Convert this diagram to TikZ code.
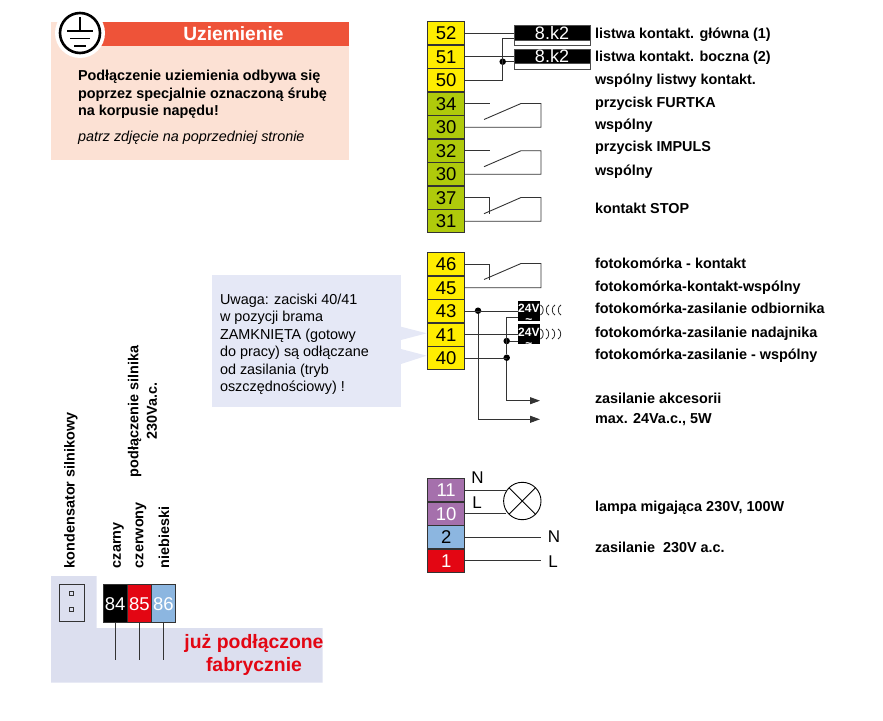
\documentclass[tikz,border=0pt]{standalone}
\usepackage{fontspec}
\setmainfont{Liberation Sans}
\usetikzlibrary{positioning, arrows.meta, matrix}

\definecolor{termyellow}{HTML}{FFED00}
\definecolor{termgreen}{HTML}{AFCA0B}
\definecolor{termviolet}{HTML}{A570AC}
\definecolor{termblue}{HTML}{8CB6E0}
\definecolor{termred}{HTML}{E30613}
\definecolor{peach}{HTML}{FCE1D4}
\definecolor{headred}{HTML}{EE5339}
\definecolor{noteblue}{HTML}{E5E8F6}
\definecolor{factoryblue}{HTML}{DCDFEF}

\begin{document}
\begin{tikzpicture}[
		x=1pt, y=-1pt,
		every node/.style={inner sep=0pt, outer sep=0pt},
		every matrix/.style={row sep=-.9pt, column sep=-.9pt},
		term/.style={draw=black!80, line width=1pt, minimum width=36.7pt, minimum height=23.4pt, text height=13pt, text depth=0pt, font=\fontsize{18.5}{20}\selectfont},
		yellowterm/.style={term, fill=termyellow},
		greenterm/.style={term, fill=termgreen},
		violetterm/.style={term, fill=termviolet, text=white},
		blueterm/.style={term, fill=termblue},
		redterm/.style={term, fill=termred, text=white},
		motorterm/.style={term, minimum width=24pt, minimum height=37.4pt},
		label/.style={anchor=west, yshift=-1.8pt, text height=10.5pt, text depth=3pt, font=\fontsize{14.4}{17}\selectfont\bfseries},
		vlabel/.style={anchor=west, rotate=90, font=\fontsize{14.4}{17}\selectfont\bfseries},
		small/.style={anchor=west, font=\fontsize{14.4}{17}\selectfont},
		resistor/.style={fill=black, draw=black!70, line width=.8pt, text=white, minimum width=76pt, minimum height=14.5pt, font=\fontsize{18}{16}\selectfont},
		resistorfoot/.style={fill=white, draw=black!70, line width=.8pt, minimum width=76pt, minimum height=5.5pt},
		supply/.style={fill=black, text=white, minimum width=22.3pt, minimum height=20pt, text height=19.5pt, text depth=.5pt, font=\fontsize{12}{9}\selectfont\bfseries},
		wire/.style={line width=.9pt, black!80},
		to/.style={-{Triangle[length=10pt,width=7pt]}, wire},
		dot/.style={circle, fill=black, minimum size=6.5pt},
		wave/.style={line width=.8pt, black!85}
		]
		
		\useasboundingbox (0,0) rectangle (883,720);
		
		% earthing panel
		\fill[peach] (51,22) rectangle (349,160);
		\fill[headred] (80,22) rectangle (349,45.5);
		\node[circle, fill=white, minimum size=50pt] (halo) at (80,33) {};
		\node[circle, draw=black, line width=2.6pt, minimum size=40pt] (earth) at (80,33) {};
		\draw[line width=1.6pt] (earth.center) ++(0,-16) -- ++(0,13);
		\draw[line width=1.6pt] (earth.center) ++(-13,-2) -- ++(26,0);
		\draw[line width=1.6pt] (earth.center) ++(-10,5.3) -- ++(20,0);
		\draw[line width=1.6pt] (earth.center) ++(-6,12.7) -- ++(12,0);
		\node[text=white, font=\fontsize{19.2}{20}\selectfont\bfseries] (earthtitle) at (233.5,34) {Uziemienie};
		\node[anchor=north west, align=left, font=\fontsize{14.4}{17.7}\selectfont\bfseries] (earthtext) at (78,70) {Podłączenie uziemienia odbywa się\\poprzez specjalnie oznaczoną śrubę\\na korpusie napędu!};
		\node[small, font=\fontsize{14.4}{17}\selectfont\itshape] (earthnote) at (78,137.5) {patrz zdjęcie na poprzedniej stronie};
		
		% note on 40/41
		\fill[noteblue] (211.7,275) rectangle (401,406.7);
		\fill[noteblue] (401,326.7) -- (426.7,333.3) -- (401,340) -- cycle;
		\fill[noteblue] (401,349) -- (426.7,355.7) -- (401,364) -- cycle;
		\node[small, anchor=north west, align=left, font=\fontsize{14.4}{17.4}\selectfont] (notetext) at (220,294) {Uwaga: zaciski 40/41\\w pozycji brama\\ZAMKNIĘTA (gotowy\\do pracy) są odłączane\\od zasilania (tryb\\oszczędnościowy) !};
		
		% terminal strips
		\matrix[matrix of nodes, anchor=north west, inner sep=0pt] (upper) at (427.3,21)
		{
			|[yellowterm] (t52)| 52 \\
			|[yellowterm] (t51)| 51 \\
			|[yellowterm] (t50)| 50 \\
			|[greenterm] (t34)| 34 \\
			|[greenterm] (t30a)| 30 \\
			|[greenterm] (t32)| 32 \\
			|[greenterm] (t30b)| 30 \\
			|[greenterm] (t37)| 37 \\
			|[greenterm] (t31)| 31 \\
		};
		\matrix[matrix of nodes, anchor=north west, inner sep=0pt] (middle) at (427.3,252)
		{
			|[yellowterm] (t46)| 46 \\
			|[yellowterm] (t45)| 45 \\
			|[yellowterm] (t43)| 43 \\
			|[yellowterm] (t41)| 41 \\
			|[yellowterm] (t40)| 40 \\
		};
		\matrix[matrix of nodes, anchor=north west, inner sep=0pt] (lower) at (427.3,478)
		{
			|[violetterm] (t11)| 11 \\
			|[violetterm] (t10)| 10 \\
			|[blueterm] (t2)| 2 \\
			|[redterm] (t1)| 1 \\
		};
		
		% resistors
		\node[resistor, anchor=north west] (r1) at (514,25.7) {8.k2};
		\node[resistorfoot, below=0pt of r1] (r1b) {};
		\node[resistor, anchor=north west] (r2) at (514,49.3) {8.k2};
		\node[resistorfoot, below=0pt of r2] (r2b) {};
		\coordinate (r1in) at (502.7,38.3);
		\node[dot] (d51) at (502.7,61.7) {};
		
		\draw[wire] (t52.east) -- (t52.east -| r1.west);
		\draw[wire] (t51.east) -- (t51.east -| r2.west);
		\draw[wire] (t50.east) -| (r1in) -- (r1in -| r1.west);
		\draw[wire] (d51) -- (d51 -| r2.west);
		
		% switches
		\coordinate (s1a) at (489.5,103.5);
		\coordinate (s1b) at (484,119.5);
		\coordinate (s1c) at (521,103.5);
		\coordinate (s1d) at (541,103.5);
		\draw[wire] (t34.east) -- (t34.east -| s1a);
		\draw[wire] (s1b) -- (s1c) -- (s1d) |- (t30a.east);
		
		\coordinate (s2a) at (489.5,150.7);
		\coordinate (s2b) at (484,166.7);
		\coordinate (s2c) at (521,150.7);
		\coordinate (s2d) at (541,150.7);
		\draw[wire] (t32.east) -- (t32.east -| s2a);
		\draw[wire] (s2b) -- (s2c) -- (s2d) |- (t30b.east);
		
		\coordinate (s3a) at (489.5,214);
		\coordinate (s3b) at (484,213.7);
		\coordinate (s3c) at (521,197.5);
		\coordinate (s3d) at (541,197.5);
		\draw[wire] (t37.east) -| (s3a);
		\draw[wire] (s3b) -- (s3c) -- (s3d) |- (t31.east);
		
		\coordinate (s4a) at (489.5,280);
		\coordinate (s4b) at (484,279.5);
		\coordinate (s4c) at (521,263.5);
		\coordinate (s4d) at (541,263.5);
		\draw[wire] (t46.east) -| (s4a);
		\draw[wire] (s4b) -- (s4c) -- (s4d) |- (t45.east);
		
		% photocell supply
		\node[supply, anchor=north west] (rx) at (517.7,300.7) {\raisebox{-3.5pt}{\shortstack{24V\\[3pt]\textasciitilde}}};
		\node[supply, anchor=north west] (tx) at (517.7,324.3) {\raisebox{-3.5pt}{\shortstack{24V\\[3pt]\textasciitilde}}};
		\node[dot] (d43) at (478,310.7) {};
		\node[dot] (d41) at (506.7,341) {};
		\node[dot] (d40) at (506.7,357.7) {};
		\coordinate (rxin) at (506.7,317.3);
		\coordinate (acc1) at (540,400.7);
		\coordinate (acc2) at (540,419.3);
		
		\draw[wire] (t43.east) -- (t43.east -| rx.west);
		\draw[wire] (t41.east) -- (t41.east -| tx.west);
		\draw[wire] (t40.east) -- (t40.east -| d40);
		\draw[wire] (d41) -- (d41 -| tx.west);
		\draw[wire] (rxin -| rx.west) -- (rxin) -- (d40);
		\draw[to] (d40) |- (acc1);
		\draw[to] (d43) |- (acc2);
		
		\draw[wave] (540.5,305) to[bend left=70] (540.5,315);
		\draw[wave] (549,305) to[bend right=70] (549,315);
		\draw[wave] (555,305) to[bend right=70] (555,315);
		\draw[wave] (561,305) to[bend right=70] (561,315);
		\draw[wave] (540.5,329) to[bend left=70] (540.5,339);
		\draw[wave] (546,329) to[bend left=70] (546,339);
		\draw[wave] (552,329) to[bend left=70] (552,339);
		\draw[wave] (558,329) to[bend left=70] (558,339);
		
		% lamp and mains
		\node[circle, draw=black, line width=.9pt, minimum size=37.4pt] (lamp) at (522.3,501) {};
		\draw[line width=.9pt] (lamp.45) -- (lamp.225);
		\draw[line width=.9pt] (lamp.135) -- (lamp.315);
		\draw[wire] (t11.east) -- (t11.east -| lamp.150);
		\draw[wire] (t10.east) -- (t10.east -| lamp.210);
		\coordinate (mainsN) at (540.7,536.3);
		\coordinate (mainsL) at (540.7,559.7);
		\draw[wire] (t2.east) -- (t2.east -| mainsN);
		\draw[wire] (t1.east) -- (t1.east -| mainsL);
		\node[font=\fontsize{17}{18}\selectfont] (lbN) at (477.5,478) {N};
		\node[font=\fontsize{17}{18}\selectfont] (lbL) at (477,503) {L};
		\node[font=\fontsize{17}{18}\selectfont] (mbN) at (554,537) {N};
		\node[font=\fontsize{17}{18}\selectfont] (mbL) at (553,562) {L};
		
		% right hand labels
		\node[label] (l1) at (595,33) {listwa kontakt. główna (1)};
		\node[label] (l2) at (595,56) {listwa kontakt. boczna (2)};
		\node[label] (l3) at (595,79) {wspólny listwy kontakt.};
		\node[label] (l4) at (595,102) {przycisk FURTKA};
		\node[label] (l5) at (595,124) {wspólny};
		\node[label] (l6) at (595,146) {przycisk IMPULS};
		\node[label] (l7) at (595,170) {wspólny};
		\node[label] (l8) at (595,208) {kontakt STOP};
		\node[label] (l9) at (595,263) {fotokomórka - kontakt};
		\node[label] (l10) at (595,286) {fotokomórka-kontakt-wspólny};
		\node[label] (l11) at (595,308) {fotokomórka-zasilanie odbiornika};
		\node[label] (l12) at (595,332) {fotokomórka-zasilanie nadajnika};
		\node[label] (l13) at (595,354) {fotokomórka-zasilanie - wspólny};
		\node[label] (l14) at (595,398) {zasilanie akcesorii};
		\node[label] (l15) at (595,418) {max. 24Va.c., 5W};
		\node[label] (l16) at (595,506) {lampa migająca 230V, 100W};
		\node[label] (l17) at (595,547) {zasilanie\ \ 230V a.c.};
		
		% factory wired part
		\fill[factoryblue] (51,576) -- (96.7,576) -- (96.7,628) -- (322.7,628) -- (322.7,682.7) -- (51,682.7) -- cycle;
		\node[draw=black!80, line width=.9pt, minimum width=25pt, minimum height=36.7pt, anchor=north west] (cap) at (59,584.3) {};
		\node[draw=black!80, line width=.7pt, minimum size=4pt] (capa) at (71.5,593.7) {};
		\node[draw=black!80, line width=.7pt, minimum size=4pt] (capb) at (71.5,609) {};
		\matrix[matrix of nodes, ampersand replacement=\&, anchor=north west, inner sep=0pt] (motor) at (102.7,584.3)
		{
			|[motorterm, fill=black, text=white] (t84)| 84 \& |[motorterm, fill=termred, text=white] (t85)| 85 \& |[motorterm, fill=termblue, text=white] (t86)| 86 \\
		};
		\draw[wire] (t84.south) -- ++(0,37.6);
		\draw[wire] (t85.south) -- ++(0,37.6);
		\draw[wire] (t86.south) -- ++(0,37.6);
		
		\node[vlabel] (vcap) at (71,568) {kondensator silnikowy};
		\node[vlabel] (vblack) at (118.5,568) {czarny};
		\node[vlabel] (vred) at (141,568) {czerwony};
		\node[vlabel] (vblue) at (164,568) {niebieski};
		\node[vlabel, align=center, font=\fontsize{14.4}{18.5}\selectfont\bfseries] (vmotor) at (142.5,477) {podłączenie silnika\\230Va.c.};
		\node[text=termred, align=center, font=\fontsize{19.4}{23}\selectfont\bfseries] (factory) at (254,655) {już podłączone\\fabrycznie};
		
		\end{tikzpicture}
\end{document}
